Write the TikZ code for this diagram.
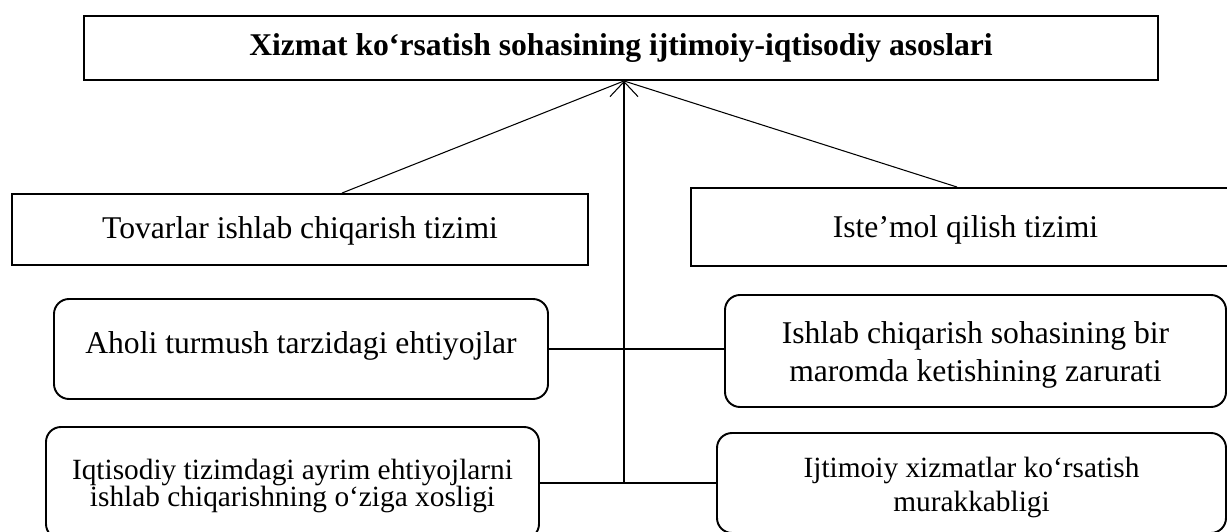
\documentclass[tikz,border=0pt]{standalone}
\usepackage{fontspec}
\setmainfont{Liberation Serif}
\usetikzlibrary{positioning,arrows.meta,calc}

\newcommand\grandtexte{\fontsize{18}{21.6}\selectfont}
\newcommand\petittexte{\fontsize{16.7}{19.35}\selectfont}
\newcommand\serretexte{\fontsize{16.7}{15.1}\selectfont\lineskiplimit=-\maxdimen}
\newcommand\montant[1]{\rule{0pt}{#1}}

\begin{document}
\begin{tikzpicture}[
    cadre/.style={draw,line width=1.1pt,align=center,inner sep=0pt},
    arrondi/.style={cadre,rounded corners=0.3cm},
    lien/.style={line width=0.6pt}
]
    \useasboundingbox (0,0) rectangle (24.54,10.62);

    % Titre
    \node[cadre,minimum width=21.48cm,minimum height=1.28cm,font=\grandtexte\bfseries] (titre) at (12.42,9.66) {Xizmat ko‘rsatish sohasining ijtimoiy-iqtisodiy asoslari};

    % Les deux systèmes
    \node[cadre,minimum width=11.52cm,minimum height=1.42cm,font=\grandtexte] (tovar) at (6.00,6.03) {\montant{14.6pt}Tovarlar ishlab chiqarish tizimi};
    \node[cadre,minimum width=10.98cm,minimum height=1.56cm,font=\grandtexte] (istemol) at (19.31,6.08) {\montant{16.3pt}Iste’mol qilish tizimi};

    % Blocs arrondis (gauche)
    \node[arrondi,minimum width=9.88cm,minimum height=2cm,font=\grandtexte,text height=17pt,text depth=11.9pt] (aholi) at (6.02,3.64) {Aholi turmush tarzidagi ehtiyojlar};
    \node[arrondi,minimum width=9.86cm,minimum height=2.24cm,font=\serretexte] (iqtisod) at (5.85,0.96) {\montant{14.8pt}Iqtisodiy tizimdagi ayrim ehtiyojlarni\\ishlab chiqarishning o‘ziga xosligi};

    % Blocs arrondis (droite)
    \node[arrondi,minimum width=10.02cm,minimum height=2.24cm,font=\grandtexte] (ishlab) at (19.51,3.60) {\montant{16.9pt}Ishlab chiqarish sohasining bir\\maromda ketishining zarurati};
    \node[arrondi,minimum width=10.18cm,minimum height=2cm,font=\petittexte] (ijtimoiy) at (19.43,0.96) {\montant{17.1pt}Ijtimoiy xizmatlar ko‘rsatish\\murakkabligi};

    % Liaisons
    \coordinate (pointe) at ([xshift=0.06cm]titre.south);
    \coordinate (bas) at (pointe |- iqtisod.east);
    \draw[lien,-{Straight Barb[length=8.5pt,width=16pt]}] (bas) -- (pointe);
    \draw[lien] ([xshift=0.84cm]tovar.north) -- (pointe);
    \draw[lien] ([xshift=-0.17cm]istemol.north) -- (pointe);
    \draw[lien] (aholi.east) -- (aholi.east -| ishlab.west);
    \draw[lien] (iqtisod.east) -- (ijtimoiy.west);

\end{tikzpicture}
\end{document}
